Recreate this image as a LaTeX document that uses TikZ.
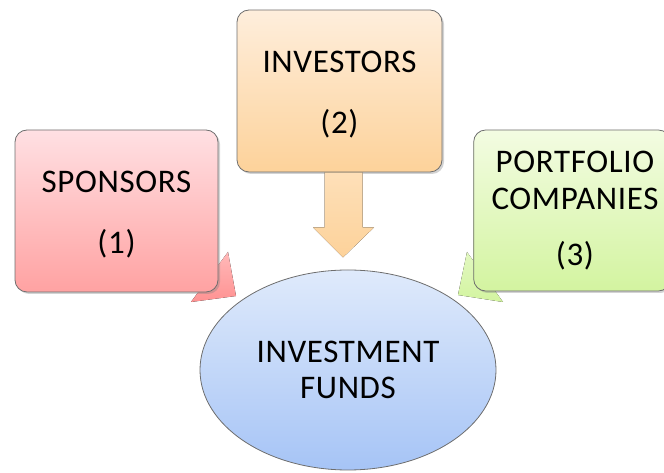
\documentclass[tikz,border=0pt]{standalone}
\usepackage{fontspec}
\setmainfont{Carlito}
\newfontfamily\bigf[LetterSpace=2]{Carlito}
\usetikzlibrary{shadows,shapes.geometric}
\definecolor{pinkT}{HTML}{FFE0E3}
\definecolor{pinkB}{HTML}{FFA2A2}
\definecolor{orT}{HTML}{FEEEDC}
\definecolor{orB}{HTML}{FDD29A}
\definecolor{grT}{HTML}{F3FCE2}
\definecolor{grB}{HTML}{D3F4A0}
\definecolor{blT}{HTML}{DFEAFB}
\definecolor{blB}{HTML}{A6C4F6}
\definecolor{edge}{HTML}{6E6E6E}
\tikzset{
  box/.style={draw=edge, line width=0.8pt, rounded corners=12pt, align=center,
    font=\bigf\fontsize{33}{37}\selectfont, drop shadow={opacity=0.35, shadow xshift=2pt, shadow yshift=-2pt}},
}
\begin{document}
\begin{tikzpicture}[x=1pt,y=1pt]
\useasboundingbox (0,0) rectangle (664,473);
\clip (0,0) rectangle (664,473);
% arrow tips behind boxes
\coordinate (st) at (236,177);
\coordinate (pt) at (458,178);
\fill[top color=pinkB!75, bottom color=pinkB!90!red] (st) -- (228,221) -- (191,171) -- cycle;
\fill[top color=grB!65, bottom color=grB] (pt) -- (467,221) -- (503,171) -- cycle;
% boxes
\node[box, top color=pinkT, bottom color=pinkB, minimum width=203pt, minimum height=162pt] (sp) at (116.5,262) {\raisebox{0pt}[29pt]{SPONSORS}\\[24pt](1)};
\node[box, top color=orT, bottom color=orB, minimum width=205pt, minimum height=162pt] (inv) at (339.5,382) {\raisebox{0pt}[29pt]{INVESTORS}\\[24pt](2)};
\node[box, top color=grT, bottom color=grB, minimum width=195pt, minimum height=161pt, text width=190pt] (pf) at (572,262.5) {\hspace*{6pt}PORTFOLIO\\\hspace*{6pt}COMPANIES\\[19pt]\hspace*{6pt}(3)};
% fund ellipse
\node[draw=edge, line width=0.8pt, ellipse, top color=blT, bottom color=blB, minimum width=296pt, minimum height=200pt, inner sep=0pt, align=center,
  font=\bigf\fontsize{33}{36}\selectfont] (fund) at (348,103) {INVESTMENT\\FUNDS};
% block arrow from investors to funds
\coordinate (a0) at ([xshift=3.5pt]inv.south);
\fill[top color=orB!70, bottom color=orB]
  ([xshift=-18.5pt]a0) -- ([xshift=-18.5pt,yshift=-55pt]a0) -- ([xshift=-30pt,yshift=-55pt]a0)
  -- ([yshift=-85pt]a0) -- ([xshift=31pt,yshift=-55pt]a0) -- ([xshift=19.5pt,yshift=-55pt]a0)
  -- ([xshift=19.5pt]a0) -- cycle;
\end{tikzpicture}
\end{document}
